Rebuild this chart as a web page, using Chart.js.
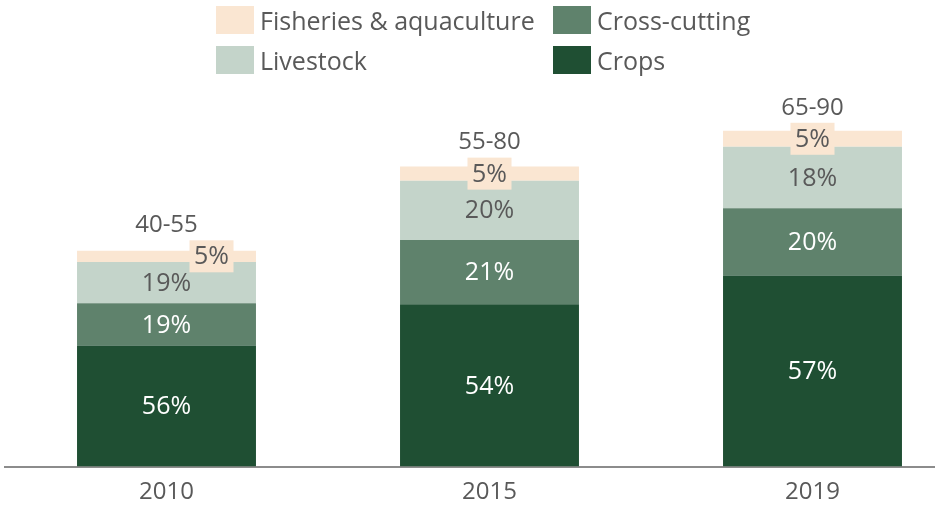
<!DOCTYPE html>
<html><head><meta charset="utf-8">
<script src="https://cdn.jsdelivr.net/npm/chart.js@4"></script>
<style>
html,body{margin:0;padding:0;width:935px;height:508px;overflow:hidden;background:#fff;font-family:"Open Sans",sans-serif;}
#wrap{position:absolute;left:0;top:0;width:974px;height:508px;}
#legend{position:absolute;left:216px;top:6px;display:grid;grid-template-columns:337px auto;row-gap:12px;color:#595959;font-size:25px;}
.item{display:flex;align-items:center;height:28px;white-space:nowrap;}
.box{width:38px;height:28px;margin-right:6px;flex:none;}
</style></head>
<body>
<div id="wrap"><canvas id="c"></canvas></div>
<div id="legend"></div>
<script>
const categories = ['2010', '2015', '2019'];
const rangeLabels = ['40-55', '55-80', '65-90'];
const seriesNames = ['Crops', 'Cross-cutting', 'Livestock', 'Fisheries & aquaculture'];
const crops = [27.0, 36.2, 42.6];
const crossCutting = [9.4, 14.35, 15.0];
const livestock = [9.25, 13.2, 13.75];
const fisheries = [2.5, 3.2, 3.55];
const cropsPct = [56, 54, 57];
const crossCuttingPct = [19, 21, 20];
const livestockPct = [19, 20, 18];
const fisheriesPct = [5, 5, 5];

const colors = ['#1f4f33', '#5f826c', '#c4d4ca', '#fae6d2'];
const textGrey = '#595959';

const datasets = [
  {label: seriesNames[0], data: crops, backgroundColor: colors[0], pctLabels: cropsPct, labelColor: '#ffffff'},
  {label: seriesNames[1], data: crossCutting, backgroundColor: colors[1], pctLabels: crossCuttingPct, labelColor: '#ffffff'},
  {label: seriesNames[2], data: livestock, backgroundColor: colors[2], pctLabels: livestockPct, labelColor: textGrey},
  {label: seriesNames[3], data: fisheries, backgroundColor: colors[3], pctLabels: fisheriesPct, labelColor: textGrey, labelBox: true}
];

const segLabels = {
  id: 'segLabels',
  afterDatasetsDraw(chart, args, opts) {
    const ctx = chart.ctx;
    ctx.save();
    ctx.textAlign = 'center';
    ctx.textBaseline = 'middle';
    chart.data.datasets.forEach((ds, di) => {
      const meta = chart.getDatasetMeta(di);
      meta.data.forEach((bar, i) => {
        const cy = (bar.y + bar.base) / 2;
        const text = ds.pctLabels[i] + '%';
        ctx.font = opts.font;
        if (ds.labelBox) {
          const cx = bar.x + opts.boxShift[i];
          ctx.fillStyle = ds.backgroundColor;
          ctx.fillRect(cx - 22, cy - 16, 44, 32);
          ctx.fillStyle = ds.labelColor;
          ctx.fillText(text, cx, cy + 1);
          ctx.font = opts.totalFont;
          ctx.fillStyle = opts.totalColor;
          ctx.fillText(rangeLabels[i], bar.x, cy - 31);
        } else {
          ctx.fillStyle = ds.labelColor;
          ctx.fillText(text, bar.x, cy + 1);
        }
      });
    });
    ctx.restore();
  }
};

new Chart(document.getElementById('c'), {
  type: 'bar',
  data: {labels: categories, datasets: datasets},
  plugins: [segLabels],
  options: {
    responsive: true,
    maintainAspectRatio: false,
    animation: false,
    layout: {padding: {left: 5, right: 0, top: 99, bottom: 0}},
    datasets: {bar: {categoryPercentage: 1, barPercentage: 0.554, borderWidth: 0}},
    plugins: {
      legend: {display: false},
      tooltip: {enabled: false},
      segLabels: {
        font: '25px "Open Sans"',
        totalFont: '24px "Open Sans"',
        totalColor: textGrey,
        boxShift: [45, 0, 0]
      }
    },
    scales: {
      x: {
        stacked: true,
        grid: {display: false, drawTicks: false},
        border: {display: true, color: '#8c8c8c', width: 2},
        ticks: {color: textGrey, font: {family: '"Open Sans"', size: 24}, padding: 11},
        afterFit(scale) { scale.height = 41.5; }
      },
      y: {
        stacked: true,
        display: false,
        min: 0,
        max: 82
      }
    }
  }
});

const legendOrder = [3, 1, 2, 0];
const legend = document.getElementById('legend');
legendOrder.forEach(k => {
  const item = document.createElement('div');
  item.className = 'item';
  const box = document.createElement('span');
  box.className = 'box';
  box.style.background = colors[k];
  const txt = document.createElement('span');
  txt.textContent = seriesNames[k];
  item.appendChild(box);
  item.appendChild(txt);
  legend.appendChild(item);
});
</script>
</body></html>
